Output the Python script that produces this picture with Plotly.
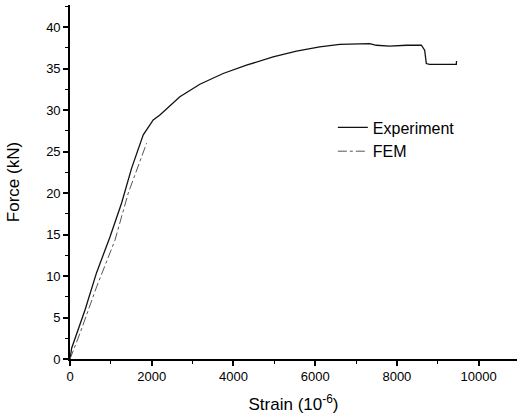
import plotly.graph_objects as go

# Experiment curve (strain in 1e-6, force in kN)
exp_strain = [0, 40, 367, 650, 978, 1263, 1508, 1614, 1793, 1956, 2036, 2200, 2608, 2689,
              3178, 3748, 4319, 4971, 5542, 6112, 6601, 7090, 7335, 7498, 7824, 8232,
              8599, 8680, 8721, 8800, 9455, 9460]
exp_force = [0, 1.3, 5.9, 10.4, 14.7, 18.8, 23.0, 24.4, 27.0, 28.2, 28.8, 29.4, 31.2, 31.6,
             33.1, 34.4, 35.4, 36.4, 37.1, 37.6, 37.9, 38.0, 38.0, 37.8, 37.7, 37.8,
             37.8, 37.2, 35.6, 35.5, 35.5, 35.9]

# FEM curve
fem_strain = [0, 245, 652, 1100, 1426, 1875]
fem_force = [0, 3.1, 8.7, 14.3, 20.0, 26.0]

font = "Liberation Sans, Arial, sans-serif"

fig = go.Figure()
fig.add_trace(go.Scatter(x=exp_strain, y=exp_force, mode="lines", name="Experiment",
                         line=dict(color="#111111", width=1.3)))
fig.add_trace(go.Scatter(x=fem_strain, y=fem_force, mode="lines", name="FEM",
                         line=dict(color="#555555", width=1, dash="dashdot")))

fig.update_layout(
    width=517, height=419,
    margin=dict(l=70, r=0, t=5, b=60, autoexpand=False),
    paper_bgcolor="white", plot_bgcolor="white",
    font=dict(family=font, size=13, color="black"),
    showlegend=True,
    legend=dict(x=0.588, y=0.702, xanchor="left", yanchor="top",
                bgcolor="rgba(0,0,0,0)", font=dict(size=16, family=font),
                tracegroupgap=0, itemwidth=30),
    xaxis=dict(range=[0, 10940], showgrid=False, zeroline=False, automargin=False,
               showline=True, linecolor="black", linewidth=1.6,
               ticks="outside", ticklen=5, tickwidth=1.5, tickcolor="black",
               tick0=0, dtick=2000, tickformat="d",
               minor=dict(ticks="outside", ticklen=3, tickwidth=1.2, dtick=1000, tickcolor="black"),
               tickfont=dict(size=13),
               title=dict(text="Strain (10<sup>-6</sup>)", font=dict(size=17), standoff=15)),
    yaxis=dict(range=[0, 42.65], showgrid=False, zeroline=False, automargin=False,
               showline=True, linecolor="black", linewidth=1.6,
               ticks="outside", ticklen=5, tickwidth=1.5, tickcolor="black",
               tick0=0, dtick=5,
               minor=dict(ticks="outside", ticklen=3, tickwidth=1.2, dtick=2.5, tickcolor="black"),
               tickfont=dict(size=13),
               title=dict(text="Force (kN)", font=dict(size=17), standoff=22)),
)

fig.write_html("out.html", config={"displayModeBar": False},
               post_script="document.body.style.margin='0';document.body.style.padding='0';")
